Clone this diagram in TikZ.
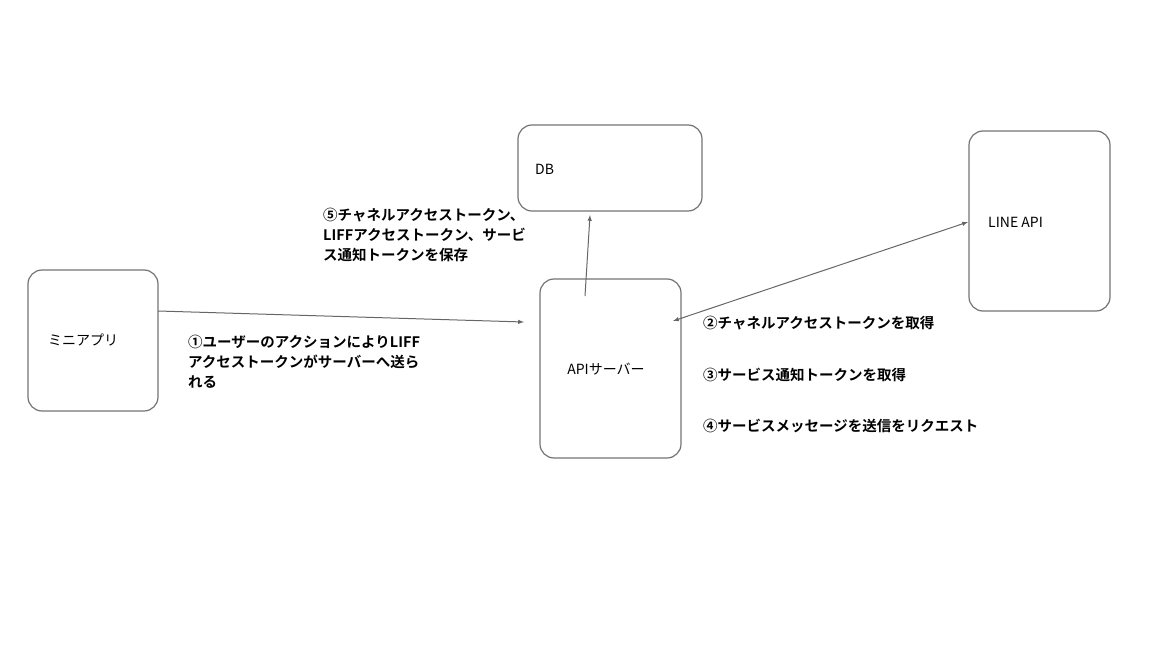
\documentclass[tikz,border=0pt]{standalone}
\usepackage{fontspec}
\setmainfont{Liberation Sans}
\newfontfamily\cjk{Noto Sans CJK JP}
\newfontfamily\cjkb{Noto Sans CJK JP Bold}
\begin{document}
\begin{tikzpicture}[x=1pt,y=-1pt,
  box/.style={draw=black!55,line width=1.2pt,rounded corners=14pt},
  arr/.style={draw=black!60,line width=1pt,-latex},
  lab/.style={anchor=west,font=\cjkb\fontsize{14.5}{20}\selectfont,inner sep=0pt,align=left},
  ntext/.style={font=\cjk\fontsize{14}{16}\selectfont,inner sep=0pt}]
\useasboundingbox (0,0) rectangle (1166,660);
\draw[box] (518,125) rectangle (702,211);
\node[ntext,anchor=west] (dbt) at (535,169) {DB};
\draw[box] (969,131) rectangle (1110,311);
\node[ntext,anchor=west] (linet) at (988,222) {LINE API};
\draw[box] (28,270) rectangle (158,411);
\node[ntext,anchor=west] (minit) at (48,340) {ミニアプリ};
\draw[box] (540,279) rectangle (681,458);
\node[ntext] (apit) at (606,369) {APIサーバー};
\coordinate (m) at (158,311);
\coordinate (a1) at (524,322);
\coordinate (a2) at (585,296);
\coordinate (d) at (590,215);
\coordinate (a3) at (673,321);
\coordinate (l) at (968,222);
\draw[arr] (m) -- (a1);
\draw[arr] (a2) -- (d);
\draw[arr,latex-latex] (a3) -- (l);
\node[lab,anchor=north west] (t1) at (188,335) {①ユーザーのアクションによりLIFF\\アクセストークンがサーバーへ送ら\\れる};
\node[lab,anchor=north west] (t5) at (323,208) {⑤チャネルアクセストークン、\\LIFFアクセストークン、サービ\\ス通知トークンを保存};
\node[lab] (t2) at (703,323) {②チャネルアクセストークンを取得};
\node[lab] (t3) at (703,375) {③サービス通知トークンを取得};
\node[lab] (t4) at (703,426) {④サービスメッセージを送信をリクエスト};
\end{tikzpicture}
\end{document}
